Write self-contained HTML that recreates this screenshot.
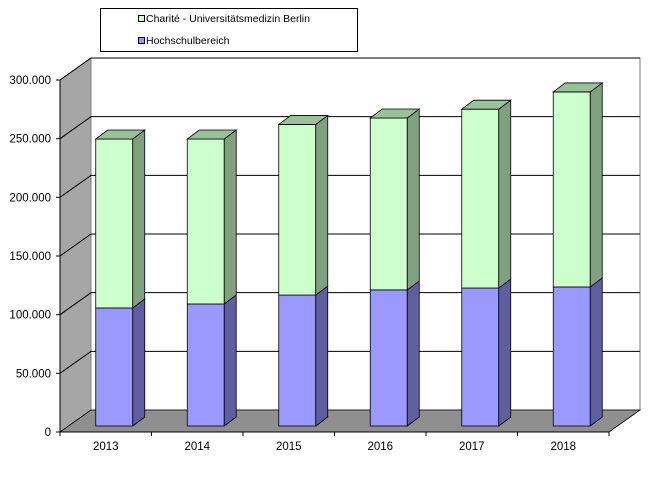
<!DOCTYPE html>
<html><head><meta charset="utf-8"><style>
html,body{margin:0;padding:0;background:#fff}
svg{display:block;font-family:"Liberation Sans",Verdana,sans-serif}
</style></head><body>
<svg id="chart" width="652" height="494" viewBox="0 0 652 494">
<g id="walls"></g>
<g id="bars"></g>
<g id="axes"></g>
<g>
<rect x="100.5" y="8.5" width="257" height="43" fill="#fff" stroke="#000"/>
<g>
<rect x="138.5" y="15.5" width="6" height="6" fill="#ccffcc" stroke="#000"/>
<text x="146" y="22" font-size="10.5" fill="#000">Charité - Universitätsmedizin Berlin</text></g>
<g>
<rect x="138.5" y="37.5" width="6" height="6" fill="#9999ff" stroke="#000"/>
<text x="146" y="44" font-size="10.5" fill="#000">Hochschulbereich</text></g>
</g>
</svg>
<script>
const categories=["2013","2014","2015","2016","2017","2018"];
const hochschul=[100600,104000,111600,116000,117600,118500];
const charite=[144000,140600,145400,146500,152400,166200];
const yTicks=[0,50000,100000,150000,200000,250000,300000];
const yTickLabels=["0","50.000","100.000","150.000","200.000","250.000","300.000"];

const NS="http://www.w3.org/2000/svg";
const X0=60,Y0=432,PX=352/300000,DX=31,DY=-22,STEP=91.5;
const BW=37,BDX=12,BDY=-9,BOFFX=8.5,BOFFY=-6;
function y(v){return Y0-v*PX;}
function mk(tag,attrs,parent){const e=document.createElementNS(NS,tag);for(const k in attrs)e.setAttribute(k,attrs[k]);parent.appendChild(e);return e;}
const walls=document.getElementById('walls'),bars=document.getElementById('bars'),axes=document.getElementById('axes');
const right=X0+STEP*categories.length;
// back wall
let bw=mk('rect',{x:X0+DX,y:y(300000)+DY,width:right-X0,height:300000*PX,fill:'#fff',stroke:'#808080'},walls);

// side wall
let sw=mk('polygon',{points:`${X0},${Y0} ${X0},${y(300000)} ${X0+DX},${y(300000)+DY} ${X0+DX},${Y0+DY}`,fill:'#a6a6a6',stroke:'#808080'},walls);

// floor
let fl=mk('polygon',{points:`${X0},${Y0} ${X0+DX},${Y0+DY} ${right+DX},${Y0+DY} ${right},${Y0}`,fill:'#8f8f8f',stroke:'#000','stroke-width':0.8},walls);

// gridlines
yTicks.forEach((t,i)=>{if(t===0)return;
 const g=mk('polyline',{points:`${X0},${y(t)} ${X0+DX},${y(t)+DY} ${right+DX},${y(t)+DY}`,fill:'none',stroke:'#000','stroke-width':1},walls);
 
});
// bars
function box(x0,yb,yt,front,side,top,name){
 const g=mk('g',{},bars);
 
 
 mk('rect',{x:x0,y:yt,width:BW,height:yb-yt,fill:front,stroke:'#000','stroke-width':0.8},g);
 mk('polygon',{points:`${x0+BW},${yb} ${x0+BW+BDX},${yb+BDY} ${x0+BW+BDX},${yt+BDY} ${x0+BW},${yt}`,fill:side,stroke:'#000','stroke-width':0.8},g);
 if(top)mk('polygon',{points:`${x0},${yt} ${x0+BDX},${yt+BDY} ${x0+BW+BDX},${yt+BDY} ${x0+BW},${yt}`,fill:top,stroke:'#000','stroke-width':0.8},g);
}
categories.forEach((c,i)=>{
 const cx=X0+STEP*(i+0.5)+BOFFX, x0=cx-BW/2;
 const yb=y(0)+BOFFY, y1=y(hochschul[i])+BOFFY, y2=y(hochschul[i]+charite[i])+BOFFY;
 box(x0,yb,y1,'#9999ff','#5f5f9f',null,'bar-hochschul-'+c);
 box(x0,y1,y2,'#ccffcc','#80a080','#99c299','bar-charite-'+c);
});
// axes
let ya=mk('line',{x1:X0,y1:y(300000),x2:X0,y2:Y0,stroke:'#000'},axes);

let xa=mk('line',{x1:X0,y1:Y0,x2:right,y2:Y0,stroke:'#000'},axes);

yTicks.forEach((t,i)=>{
 mk('line',{x1:X0-4,y1:y(t),x2:X0,y2:y(t),stroke:'#000'},axes);
 const tx=mk('text',{x:X0-9,y:y(t)+4,'text-anchor':'end','font-size':11.5,fill:'#000'},axes);
 tx.textContent=yTickLabels[i];
 
 
});
for(let i=0;i<=categories.length;i++){mk('line',{x1:X0+STEP*i,y1:Y0,x2:X0+STEP*i,y2:Y0+4,stroke:'#000'},axes);}
categories.forEach((c,i)=>{
 const tx=mk('text',{x:X0+STEP*(i+0.5),y:Y0+18,'text-anchor':'middle','font-size':11.5,fill:'#000'},axes);
 tx.textContent=c;
 
 
});
</script>
</body></html>
